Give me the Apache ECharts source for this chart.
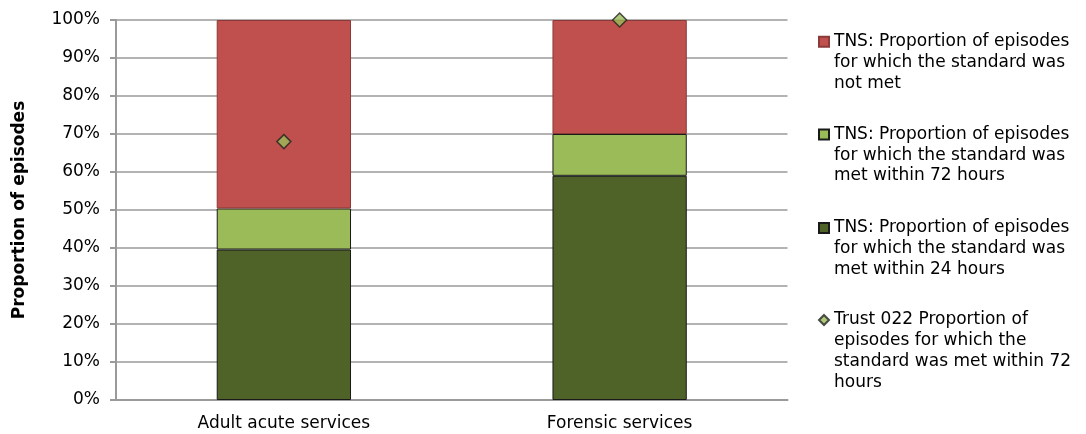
<!DOCTYPE html>
<html>
<head>
<meta charset="utf-8">
<script src="https://cdn.jsdelivr.net/npm/echarts@6/dist/echarts.min.js"></script>
<style>html,body{margin:0;padding:0;background:#fff}#c{width:1086px;height:434px}</style>
</head>
<body>
<div id="c"></div>
<script>
const categories = ['Adult acute services', 'Forensic services'];
const met24 = [39.6, 59.0];
const met72 = [10.8, 11.0];
const notMet = [49.6, 30.0];
const trust022 = [68.0, 100.0];
const yTicks = [0, 10, 20, 30, 40, 50, 60, 70, 80, 90, 100];

const names = [
  'TNS: Proportion of episodes\nfor which the standard was\nnot met',
  'TNS: Proportion of episodes\nfor which the standard was\nmet within 72 hours',
  'TNS: Proportion of episodes\nfor which the standard was\nmet within 24 hours',
  'Trust 022 Proportion of\nepisodes for which the\nstandard was met within 72\nhours'
];
const LH = 20.7;
const FS = 17;
const FONT = "'DejaVu Sans', Verdana, sans-serif";
const iconCenters = [41.7, 134.5, 228, 320];

function mkLegend(i, icon) {
  const n = names[i].split('\n').length;
  return {
    orient: 'vertical', left: 818, top: iconCenters[i] - (2 * n - 1) * LH / 2,
    padding: 0, itemWidth: 10, itemHeight: 10, itemGap: 0,
    selectedMode: false,
    data: [{ name: names[i], icon: icon }],
    formatter: function (nm) { return '\n'.repeat(n - 1) + nm; },
    textStyle: { fontFamily: FONT, fontSize: FS, color: '#000', lineHeight: LH }
  };
}

const chart = echarts.init(document.getElementById('c'));
chart.setOption({
  animation: false,
  textStyle: { fontFamily: FONT },
  legend: [mkLegend(0, 'rect'), mkLegend(1, 'rect'), mkLegend(2, 'rect'), mkLegend(3, 'diamond')],
  grid: { left: 116, right: 298.5, top: 20, bottom: 34, containLabel: false, outerBoundsMode: 'none' },
  xAxis: {
    type: 'category', data: categories,
    axisLine: { lineStyle: { color: '#9a9a9a', width: 2 } },
    axisTick: { show: false },
    axisLabel: { fontFamily: FONT, fontSize: FS, color: '#000', margin: 15 }
  },
  yAxis: {
    type: 'value', min: 0, max: 100, interval: 10,
    name: 'Proportion of episodes', nameLocation: 'middle', nameGap: 88, nameRotate: 90,
    nameMoveOverlap: false,
    nameTextStyle: { fontFamily: FONT, fontSize: FS, fontWeight: 'bold', color: '#000' },
    axisLine: { show: true, lineStyle: { color: '#9a9a9a', width: 2 } },
    axisTick: { show: true, length: 6, lineStyle: { color: '#9a9a9a', width: 2 } },
    splitLine: { lineStyle: { color: '#b3b3b3', width: 2 } },
    axisLabel: { fontFamily: FONT, fontSize: FS, color: '#000', margin: 16, formatter: '{value}%' }
  },
  series: [
    { name: names[2], type: 'bar', stack: 's', data: met24, barWidth: '40%',
      itemStyle: { color: '#4F6228', borderColor: '#1a1a1a', borderWidth: 1 } },
    { name: names[1], type: 'bar', stack: 's', data: met72,
      itemStyle: { color: '#9BBB59', borderColor: '#1a1a1a', borderWidth: 1 } },
    { name: names[0], type: 'bar', stack: 's', data: notMet,
      itemStyle: { color: '#C0504D', borderColor: '#8a3a38', borderWidth: 1 } },
    { name: names[3], type: 'scatter', data: trust022, symbol: 'diamond', symbolSize: 14, z: 5,
      itemStyle: { color: '#9BBB59', borderColor: '#222', borderWidth: 1.5 } }
  ]
});
</script>
</body>
</html>
